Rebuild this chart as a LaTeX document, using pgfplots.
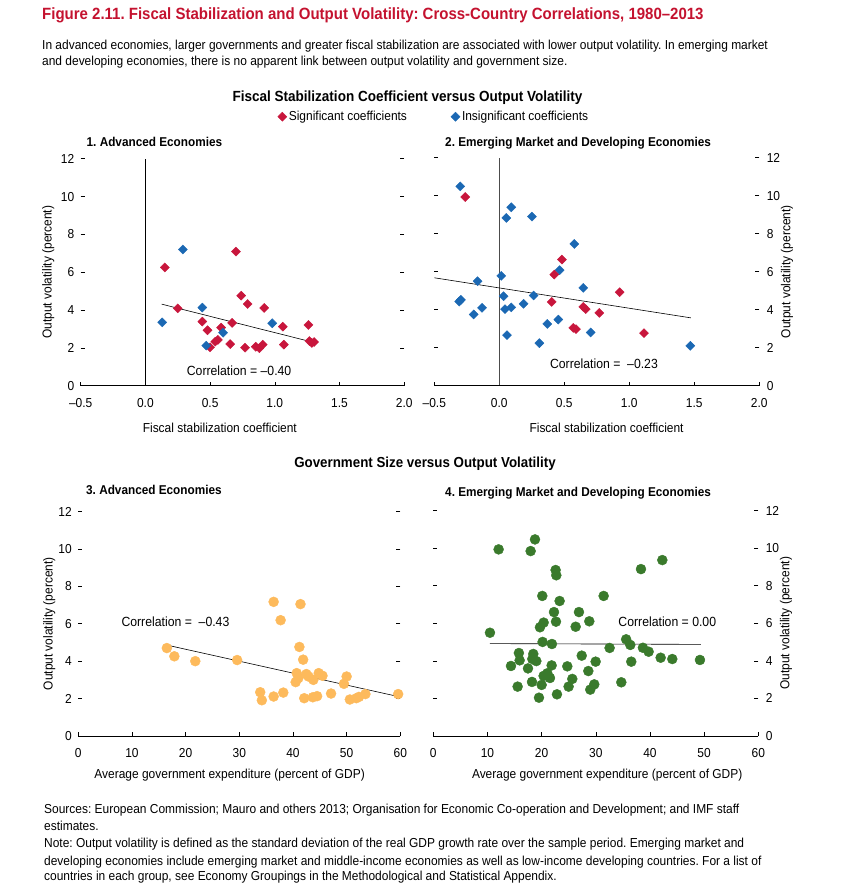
\documentclass[border=0pt]{standalone}
\usepackage{fontspec}
\setmainfont{Liberation Sans}[FakeStretch=0.92]
\usepackage{pgfplots}
\pgfplotsset{compat=1.18}
\definecolor{figred}{HTML}{C4122F}
\definecolor{sigred}{HTML}{C8163C}
\definecolor{insblue}{HTML}{1B68B3}
\definecolor{aeorange}{HTML}{FDBA5C}
\definecolor{emgreen}{HTML}{3A7A2C}
\newcommand{\fs}[1]{\fontsize{#1}{#1}\selectfont}
\frenchspacing

\pgfplotsset{
  panel/.style={
    scale only axis,
    axis line style={draw=none},
    xtick pos=bottom,
    ytick pos=both,
    tick align=inside,
    major tick length=4pt,
    tick style={black, line width=0.6pt},
    ymin=0, ymax=12,
    ytick={0,2,...,12},
    yticklabels={0,2,4,6,8,10,12},
    tick label style={font=\fs{13}},
    xticklabel style={yshift=-9pt},
    label style={font=\fs{13}},
    ylabel={Output volatility (percent)},
    clip=false,
  },
  fiscal/.style={
    panel, width=323.5pt, height=227pt,
    xmin=-0.5, xmax=2.0,
    xtick={-0.5,0,0.5,1,1.5,2},
    xticklabels={–0.5,0.0,0.5,1.0,1.5,2.0},
    xlabel={Fiscal stabilization coefficient},
  },
  govsize/.style={
    panel, width=322pt, height=224.5pt,
    xmin=0, xmax=60,
    xtick={0,10,...,60},
    xticklabels={0,10,20,30,40,50,60},
    xlabel={Average government expenditure (percent of GDP)},
  },
  leftlab/.style={yticklabel pos=left, yticklabel style={xshift=-3pt}},
  rightlab/.style={yticklabel pos=right, yticklabel style={xshift=4pt}},
  sig/.style={only marks, mark=square*, mark size=3.2pt,
    mark options={rotate=45, fill=sigred, draw=sigred}},
  insig/.style={only marks, mark=square*, mark size=3.2pt,
    mark options={rotate=45, fill=insblue, draw=insblue}},
  trend/.style={black, line width=0.6pt, forget plot},
}

\begin{document}
\begin{tikzpicture}
\useasboundingbox (0,0) rectangle (842pt,892pt);

% texts above the panels
\node[anchor=base west, inner sep=0, text=figred, font=\fs{16.3}\bfseries] at (42pt,872pt)
  {Figure 2.11. Fiscal Stabilization and Output Volatility: Cross-Country Correlations, 1980–2013};
\node[anchor=base west, inner sep=0, font=\fs{13}] at (42pt,842.5pt)
  {In advanced economies, larger governments and greater fiscal stabilization are associated with lower output volatility. In emerging market};
\node[anchor=base west, inner sep=0, font=\fs{13}] at (42pt,826.5pt)
  {and developing economies, there is no apparent link between output volatility and government size.};
\node[anchor=base, inner sep=0, font=\fs{14.7}\bfseries] at (407.5pt,790.5pt)
  {Fiscal Stabilization Coefficient versus Output Volatility};
\node[anchor=base, inner sep=0, font=\fs{14.5}\bfseries] at (425pt,424.5pt)
  {Government Size versus Output Volatility};
\node[anchor=base west, inner sep=0, font=\fs{12.8}\bfseries] at (86.5pt,745.5pt) {1. Advanced Economies};
\node[anchor=base west, inner sep=0, font=\fs{12.8}\bfseries] at (445pt,745.5pt) {2. Emerging Market and Developing Economies};
\node[anchor=base west, inner sep=0, font=\fs{12.8}\bfseries] at (86pt,397pt) {3. Advanced Economies};
\node[anchor=base west, inner sep=0, font=\fs{12.8}\bfseries] at (445pt,395pt) {4. Emerging Market and Developing Economies};

% 1. Advanced economies, fiscal stabilization
\begin{axis}[fiscal, leftlab, at={(80.7pt,506.3pt)}, anchor=south west,
  ylabel style={at={(axis description cs:-0.1,0.5)}, anchor=center},
  xlabel style={at={(axis description cs:0.43,-0.185)}, anchor=center},
  legend columns=2,
  legend style={at={(axis description cs:1.092,1.185)}, anchor=center,
    draw=none, fill=none, font=\fs{13},
    /tikz/every even column/.append style={column sep=42pt}},
  legend cell align=left]
\addplot[sig] coordinates {
  (0.15,6.25) (0.25,4.09) (0.70,7.09) (0.44,3.39) (0.48,2.93) (0.50,2.03)
  (0.54,2.33) (0.56,2.42) (0.585,3.07) (0.655,2.20) (0.67,3.32) (0.74,4.76)
  (0.79,4.32) (0.77,2.01) (0.853,2.06) (0.881,1.98) (0.907,2.17) (0.918,4.11)
  (1.062,3.12) (1.07,2.17) (1.26,3.21) (1.268,2.36) (1.286,2.26) (1.304,2.31)
};
\addlegendentry{Significant coefficients}
\addplot[insig] coordinates {
  (0.13,3.35) (0.29,7.20) (0.44,4.13) (0.47,2.12) (0.60,2.80) (0.98,3.30)
};
\addlegendentry{Insignificant coefficients}
\addplot[black, line width=0.6pt, forget plot] coordinates {(0,0) (0,12)};
\addplot[trend] coordinates {(0.126,4.31) (1.30,2.29)};
\draw[black, line width=0.6pt] (rel axis cs:0,0) -- (rel axis cs:1,0);
\node[font=\fs{13.3}] at (axis cs:0.724,0.78) {Correlation = –0.40};
\end{axis}

% 2. Emerging and developing, fiscal stabilization
\begin{axis}[fiscal, rightlab, at={(434.3pt,506.3pt)}, anchor=south west,
  width=325pt, height=228pt,
  ylabel style={at={(axis description cs:1.085,0.5)}, anchor=center, rotate=0},
  xlabel style={at={(axis description cs:0.53,-0.185)}, anchor=center}]
\addplot[insig] coordinates {
  (-0.30,10.49) (-0.308,4.43) (-0.295,4.52) (-0.197,3.75) (-0.167,5.50)
  (-0.133,4.10) (0.015,5.78) (0.033,4.71) (0.044,4.03) (0.054,8.83)
  (0.059,2.66) (0.092,9.39) (0.092,4.12) (0.187,4.31) (0.251,8.90)
  (0.264,4.75) (0.308,2.24) (0.369,3.25) (0.454,3.48) (0.464,6.08)
  (0.577,7.46) (0.646,5.15) (0.703,2.80) (1.469,2.10)
};
\addplot[sig] coordinates {
  (-0.262,9.93) (0.423,5.85) (0.482,6.64) (0.403,4.41) (0.569,3.04)
  (0.59,2.98) (0.646,4.15) (0.665,4.03) (0.769,3.83) (0.926,4.92) (1.113,2.77)
};
\addplot[black!70, line width=0.5pt, forget plot] coordinates {(0,0) (0,12)};
\addplot[trend] coordinates {(-0.5,5.68) (1.474,3.57)};
\draw[black, line width=0.6pt] (rel axis cs:0,0) -- (rel axis cs:1,0);
\node[font=\fs{13.3}] at (axis cs:0.805,1.17) {Correlation = \ –0.23};
\end{axis}

% 3. Advanced economies, government size
\begin{axis}[govsize, leftlab, at={(78.3pt,156pt)}, anchor=south west,
  ylabel style={at={(axis description cs:-0.09,0.5)}, anchor=center},
  xlabel style={at={(axis description cs:0.47,-0.175)}, anchor=center}]
\addplot[only marks, mark=*, mark size=5pt, mark options={fill=aeorange, draw=aeorange}] coordinates {
  (16.5,4.70) (17.9,4.26) (21.8,4.00) (29.6,4.06) (33.9,2.34) (34.2,1.91)
  (36.4,7.17) (36.4,2.11) (37.7,6.19) (38.2,2.32) (40.5,2.88) (40.7,3.36)
  (41.0,3.09) (41.2,4.76) (41.4,7.05) (41.9,4.08) (42.1,2.02) (42.5,3.31)
  (42.9,3.18) (43.8,3.00) (43.7,2.07) (44.5,2.13) (44.8,3.36) (45.5,3.22)
  (47.1,2.27) (49.5,2.79) (50.0,3.18) (50.6,1.95) (51.8,2.02) (52.3,2.09)
  (53.5,2.24) (59.6,2.24)
};
\addplot[trend] coordinates {(16.5,4.86) (59.6,2.11)};
\draw[black, line width=0.6pt] (rel axis cs:0,0) -- (rel axis cs:1,0);
\node[font=\fs{13.3}] at (axis cs:18.1,6.13) {Correlation = \ –0.43};
\end{axis}

% 4. Emerging and developing, government size
\begin{axis}[govsize, rightlab, at={(433.3pt,156pt)}, anchor=south west,
  width=325pt, height=225.3pt,
  ylabel style={at={(axis description cs:1.085,0.5)}, anchor=center, rotate=0},
  xlabel style={at={(axis description cs:0.535,-0.175)}, anchor=center}]
\addplot[only marks, mark=*, mark size=5pt, mark options={fill=emgreen, draw=emgreen}] coordinates {
  (10.46,5.50) (12.06,9.94) (18.77,10.47) (17.97,9.85) (22.58,8.84) (22.71,8.56)
  (42.28,9.37) (38.34,8.89) (20.12,7.46) (23.32,7.19) (31.45,7.46) (22.28,6.60)
  (26.89,6.60) (22.65,6.09) (28.80,6.11) (20.37,6.04) (19.69,5.79) (26.28,5.82)
  (20.18,5.01) (21.90,4.90) (15.80,4.42) (15.94,4.03) (14.34,3.73) (17.48,3.60)
  (18.46,4.37) (18.28,4.10) (19.02,3.99) (21.85,3.76) (24.74,3.71) (27.40,4.28)
  (29.97,3.96) (28.62,3.46) (32.55,4.69) (35.60,5.15) (36.37,4.85) (36.55,3.96)
  (38.70,4.70) (39.75,4.49) (41.97,4.17) (44.12,4.10) (49.23,4.05) (15.57,2.63)
  (18.22,2.88) (20.00,2.72) (20.37,3.20) (21.05,3.34) (21.54,3.09) (19.51,2.04)
  (22.83,2.22) (24.98,2.63) (25.66,3.04) (28.98,2.47) (29.72,2.75) (34.71,2.86)
};
\addplot[trend] coordinates {(10.46,4.92) (49.4,4.88)};
\draw[black, line width=0.6pt] (rel axis cs:0,0) -- (rel axis cs:1,0);
\node[font=\fs{13.3}] at (axis cs:43.2,6.09) {Correlation = 0.00};
\end{axis}

% sources and note
\node[anchor=base west, inner sep=0, font=\fs{13}] at (44pt,78pt)
  {Sources: European Commission; Mauro and others 2013; Organisation for Economic Co-operation and Development; and IMF staff};
\node[anchor=base west, inner sep=0, font=\fs{13}] at (44pt,61pt) {estimates.};
\node[anchor=base west, inner sep=0, font=\fs{13}] at (44pt,44pt)
  {Note: Output volatility is defined as the standard deviation of the real GDP growth rate over the sample period. Emerging market and};
\node[anchor=base west, inner sep=0, font=\fs{13}] at (44pt,27pt)
  {developing economies include emerging market and middle-income economies as well as low-income developing countries. For a list of};
\node[anchor=base west, inner sep=0, font=\fs{13}] at (44pt,11pt)
  {countries in each group, see Economy Groupings in the Methodological and Statistical Appendix.};
\end{tikzpicture}
\end{document}
